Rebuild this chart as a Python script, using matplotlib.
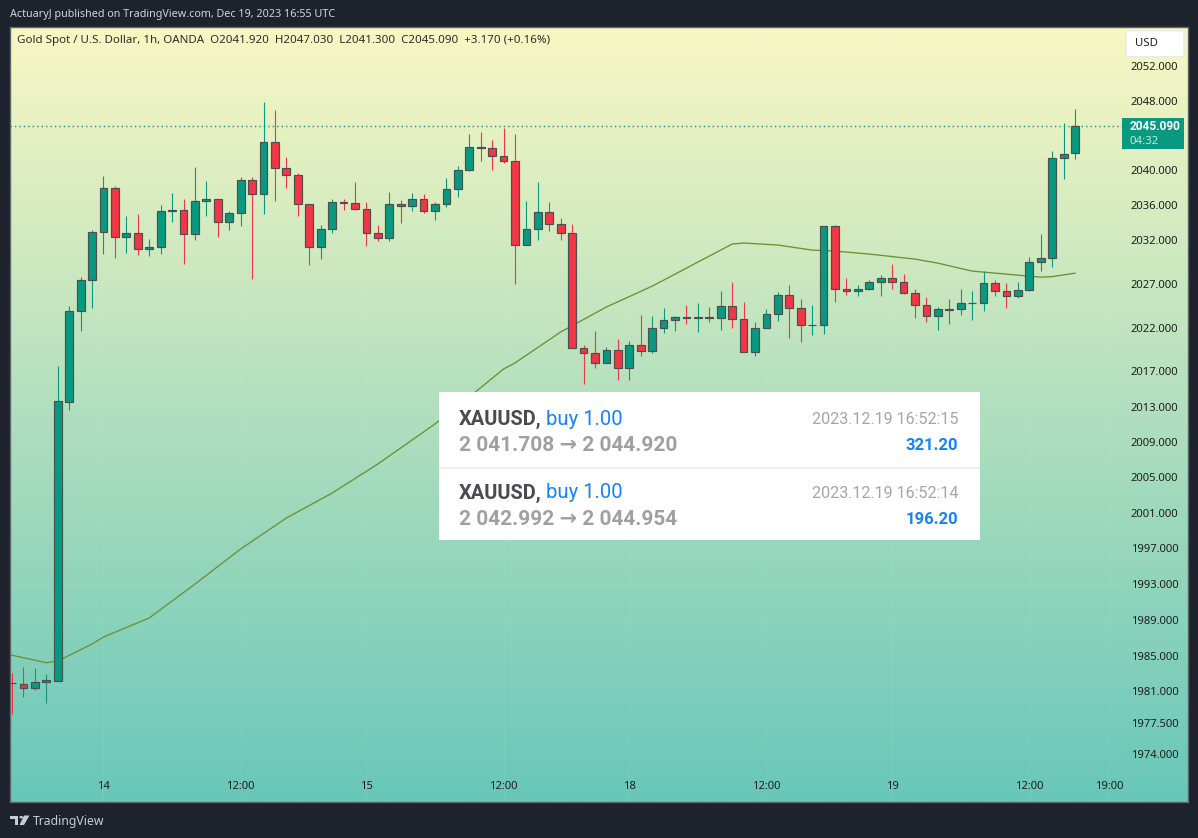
import numpy as np
import matplotlib
matplotlib.use("Agg")
import matplotlib.pyplot as plt
from matplotlib.patches import Rectangle, FancyBboxPatch, Polygon, Circle
from matplotlib.colors import LinearSegmentedColormap
from matplotlib.ticker import FixedLocator, FixedFormatter, NullLocator

opens = [1981.92,1981.79,1981.35,1982.01,1982.20,2013.53,2023.89,2027.47,
2032.87,2037.91,2032.29,2032.75,2030.92,2031.14,2035.27,2035.39,2032.64,2036.42,
2036.65,2034.01,2035.04,2038.83,2037.22,2043.19,2040.21,2039.40,2036.08,2031.14,
2033.21,2036.31,2036.19,2035.50,2032.75,2032.18,2036.08,2035.85,2036.65,2035.27,
2036.08,2037.80,2039.98,2042.61,2042.50,2041.58,2041.01,2031.37,2033.21,2035.16,
2033.78,2032.75,2019.63,2019.06,2017.92,2019.41,2017.35,2019.98,2019.29,2021.91,
2022.83,2023.17,2023.05,2023.17,2023.05,2024.42,2022.94,2019.18,2021.91,2023.51,
2025.75,2024.19,2022.26,2022.26,2033.55,2026.44,2026.21,2026.44,2027.13,2027.59,
2027.13,2025.98,2024.54,2023.28,2024.08,2024.08,2024.76,2024.76,2027.02,2026.21,
2025.64,2026.33,2029.42,2029.88,2041.35,2041.92]
highs = [1983.05,1983.72,1983.61,1982.94,2017.62,2024.46,2027.74,2033.13,
2039.32,2038.14,2034.73,2034.96,2032.10,2035.96,2037.34,2036.65,2040.32,2038.71,
2036.65,2035.27,2039.17,2039.17,2047.78,2046.86,2041.47,2039.63,2036.08,2033.67,
2036.65,2036.65,2038.60,2036.31,2033.67,2037.45,2036.54,2037.34,2037.22,2036.31,
2039.06,2040.44,2044.11,2044.34,2043.42,2044.83,2044.11,2036.42,2038.60,2036.31,
2034.47,2033.82,2019.98,2021.57,2019.75,2020.66,2020.43,2023.40,2023.28,2024.19,
2023.28,2024.54,2024.76,2024.31,2026.21,2027.24,2024.88,2022.60,2024.08,2026.10,
2026.79,2025.22,2024.54,2033.55,2033.67,2027.70,2026.90,2027.36,2027.93,2029.19,
2028.05,2026.44,2025.52,2024.31,2025.22,2026.44,2026.21,2028.39,2027.36,2027.02,
2027.13,2030.00,2032.64,2042.16,2045.37,2047.03]
lows = [1978.51,1980.41,1981.16,1979.74,1982.16,2012.63,2021.61,2024.23,
2030.41,2029.95,2030.53,2030.30,2030.18,2030.41,2034.05,2029.26,2032.02,2034.77,
2032.36,2033.16,2033.62,2027.54,2035.00,2036.49,2037.98,2034.77,2029.15,2029.84,
2032.82,2035.46,2035.46,2031.33,2031.90,2031.90,2033.97,2035.34,2035.11,2034.31,
2035.80,2036.95,2039.90,2041.08,2040.05,2040.85,2026.97,2031.37,2032.02,2033.05,
2032.02,2019.63,2015.60,2017.42,2017.92,2016.05,2016.05,2018.79,2019.13,2021.41,
2021.64,2022.44,2021.53,2022.67,2021.75,2021.98,2019.18,2018.79,2021.91,2022.78,
2020.84,2020.39,2021.18,2021.30,2024.95,2025.71,2025.59,2026.28,2025.59,2026.40,
2025.82,2023.12,2022.67,2021.75,2022.44,2023.46,2022.90,2023.92,2025.59,2024.26,
2025.36,2026.17,2028.46,2028.92,2039.01,2041.30]
closes = [1981.88,1981.35,1982.01,1982.24,2013.65,2023.89,2027.47,2032.87,
2037.91,2032.29,2032.75,2030.92,2031.14,2035.27,2035.39,2032.64,2036.42,2036.65,
2034.01,2035.04,2038.83,2037.22,2043.19,2040.21,2039.40,2036.08,2031.14,2033.21,
2036.31,2036.19,2035.50,2032.75,2032.18,2036.08,2035.85,2036.65,2035.27,2036.08,
2037.80,2039.98,2042.61,2042.50,2041.58,2041.01,2031.37,2033.21,2035.16,2033.78,
2032.75,2019.63,2019.06,2017.92,2019.41,2017.35,2019.98,2019.29,2021.91,2022.83,
2023.17,2023.13,2023.17,2023.05,2024.42,2022.94,2019.18,2021.91,2023.51,2025.75,
2024.19,2022.26,2022.30,2033.55,2026.44,2026.21,2026.44,2027.13,2027.59,2027.13,
2025.98,2024.54,2023.28,2024.08,2024.04,2024.76,2024.80,2027.02,2026.21,2025.64,
2026.33,2029.42,2029.88,2041.35,2041.81,2045.09]
first_bar = -8

ma_bars = [-8.1,-5,-4,-1,0,4,8,12,16,20,24,29,32,35,36,40,44,48,50,52,55,56,59,62,64,67,71,73,76,78,80,82,83,85]
ma_values = [1985.06,1984.20,1984.39,1986.29,1987.07,1989.20,1993.00,1996.94,2000.43,2003.24,2006.52,
2011.05,2014.11,2017.28,2017.97,2021.49,2024.34,2026.71,2028.08,2029.46,2031.52,2031.64,2031.41,
2030.83,2030.72,2030.38,2029.80,2029.34,2028.43,2028.20,2027.97,2027.74,2027.80,2028.20]

price_ticks = [2052,2048,2040,2036,2032,2027,2022,2017,2013,2009,2005,2001,1997,1993,1989,1985,1981,1977.5,1974]
time_tick_bars = [0,12,23,35,46,58,69,81,88]
time_tick_labels = ["14","12:00","15","12:00","18","12:00","19","12:00","19:00"]
last_price = 2045.09

header = "ActuaryJ published on TradingView.com, Dec 19, 2023 16:55 UTC"
legend = "Gold Spot / U.S. Dollar, 1h, OANDA  O2041.920  H2047.030  L2041.300  C2045.090  +3.170 (+0.16%)"
trades = [("XAUUSD,", "buy 1.00", "2 041.708 \u2192 2 044.920", "2023.12.19 16:52:15", "321.20"),
          ("XAUUSD,", "buy 1.00", "2 042.992 \u2192 2 044.954", "2023.12.19 16:52:14", "196.20")]

W, H = 1198, 838
BG = "#1e222d"; GREEN = "#089981"; RED = "#f23645"; EDGE = "#4b4f50"
BOXFONT = ["Roboto", "DejaVu Sans"]
plt.rcParams["font.family"] = ["Noto Sans", "DejaVu Sans"]

fig = plt.figure(figsize=(W/100, H/100), dpi=100, facecolor=BG)
def fx(x): return x/W
def fy(y): return 1-y/H
L, R, T, B = 10, 1187.5, 27, 802
X0, DX = 103.5, 11.43
def bar_at(px): return (px-X0)/DX
pos = [fx(L), fy(B), fx(R)-fx(L), fy(T)-fy(B)]

bg = fig.add_axes(pos, zorder=0)
bg.axis("off")
cmap = LinearSegmentedColormap.from_list("g", ["#f9f7c3", "#68c7b9"])
bg.imshow(np.linspace(0, 1, 400)[:, None], aspect="auto", cmap=cmap, vmin=0, vmax=1)

ax = fig.add_axes(pos, zorder=1)
ax.patch.set_visible(False)
ax.set_yscale("log")
bars = np.arange(first_bar, first_bar+len(opens))
o, h, l, c = map(np.array, (opens, highs, lows, closes))
up = c >= o
colors = np.where(up, GREEN, RED)
ax.set_xlim(bar_at(L), bar_at(R))
ax.set_ylim(1968.7, 2056.5)

ax.vlines(time_tick_bars, 1968.7, 2056.5, color="white", alpha=0.06, lw=0.7, zorder=1)
ax.hlines(price_ticks, bar_at(L), bar_at(1122), color="white", alpha=0.04, lw=0.7, zorder=1)

ax.plot(ma_bars, ma_values, color="#6b9132", lw=0.95, zorder=2)
ax.hlines(last_price, bar_at(L), bar_at(1122), color=GREEN, lw=1.0,
          linestyles=[(0, (1, 2.2))], zorder=2)
wicks = ax.vlines(bars, l, h, colors=colors, lw=0.8, zorder=3)
wicks.set_snap(True)
ax.bar(bars, np.maximum(o, c)-np.minimum(o, c), bottom=np.minimum(o, c), width=0.68,
       color=colors, edgecolor=EDGE, linewidth=0.85, zorder=4)

ax.yaxis.tick_right()
ax.yaxis.set_major_locator(FixedLocator(price_ticks))
ax.yaxis.set_major_formatter(FixedFormatter([f"{p:.3f}" for p in price_ticks]))
ax.yaxis.set_minor_locator(NullLocator())
ax.tick_params(axis="y", length=0, pad=-40.8, labelsize=8.1, labelcolor="#1f1f1f")
ax.set_xticks(time_tick_bars)
ax.set_xticklabels(time_tick_labels)
ax.tick_params(axis="x", length=0, pad=-15, labelsize=8.1, labelcolor="#1f1f1f")
for s in ax.spines.values():
    s.set_color("#5b6567"); s.set_linewidth(1.0)

def rect(x0, y0, x1, y1, **kw):
    fig.add_artist(Rectangle((fx(x0), fy(y1)), fx(x1)-fx(x0), fy(y0)-fy(y1),
                             transform=fig.transFigure, zorder=5, **kw))

# header, legend, footer
fig.text(fx(10), fy(14), header, color="#d1d4dc", fontsize=7.75, va="center", ha="left")
fig.text(fx(17), fy(41), legend, color="#2c2c2c", fontsize=8.3, va="center", ha="left", zorder=6)
fig.text(fx(33), fy(821), "TradingView", color="#c9ccd3", fontsize=8.8, va="center", ha="left")
logo = "#c9ccd3"
fig.add_artist(Polygon([(fx(a), fy(b)) for a, b in [(10,815.5),(18,815.5),(18,825),(14.5,825),(14.5,819),(10,819)]],
                       closed=True, fc=logo, ec="none", transform=fig.transFigure))
fig.add_artist(Polygon([(fx(a), fy(b)) for a, b in [(24,815.5),(29.5,815.5),(24,825),(19.5,825)]],
                       closed=True, fc=logo, ec="none", transform=fig.transFigure))
fig.add_artist(Circle((fx(21.2), fy(817.2)), 1.8/W, fc=logo, ec="none", transform=fig.transFigure))

# last price tag and currency button
rect(1122, 118, 1184, 149, fc=GREEN, ec="none")
fig.text(fx(1130), fy(127), "2045.090", family=BOXFONT, color="white", fontsize=8.6, fontweight="bold", va="center", zorder=7)
fig.text(fx(1130), fy(141), "04:32", color="#c4e9e0", fontsize=8.2, va="center", zorder=7)
fig.add_artist(FancyBboxPatch((fx(1126), fy(56.7)), fx(58), 26/H,
    boxstyle="round,pad=0,rounding_size=0.003", fc="white", ec="#e9e9e9", lw=1, transform=fig.transFigure, zorder=5))
fig.text(fx(1135), fy(44), "USD", color="#222222", fontsize=8.2, va="center", zorder=7)

# trade box
rect(439, 392, 980, 540, fc="white", ec="none")
rect(439, 467, 980, 468.5, fc="#eeeeee", ec="none")
for k, (sym, side, path, stamp, pnl) in enumerate(trades):
    dy = 74*k
    fig.text(fx(459), fy(419+dy), sym, family=BOXFONT, color="#4a4a50", fontsize=14.4, fontweight="bold", va="center", zorder=7)
    fig.text(fx(546), fy(419+dy), side, family=BOXFONT, color="#1583f7", fontsize=14.6, va="center", zorder=7)
    fig.text(fx(459), fy(445+dy), path, family=BOXFONT, color="#a0a0a3", fontsize=15, fontweight="bold", va="center", zorder=7)
    fig.text(fx(958), fy(419+dy), stamp, family=BOXFONT, color="#a5a5a8", fontsize=11.6, ha="right", va="center", zorder=7)
    fig.text(fx(958), fy(445+dy), pnl, family=BOXFONT, color="#1583f7", fontsize=12, fontweight="bold", ha="right", va="center", zorder=7)

fig.savefig("out.png", dpi=100, facecolor=BG)
